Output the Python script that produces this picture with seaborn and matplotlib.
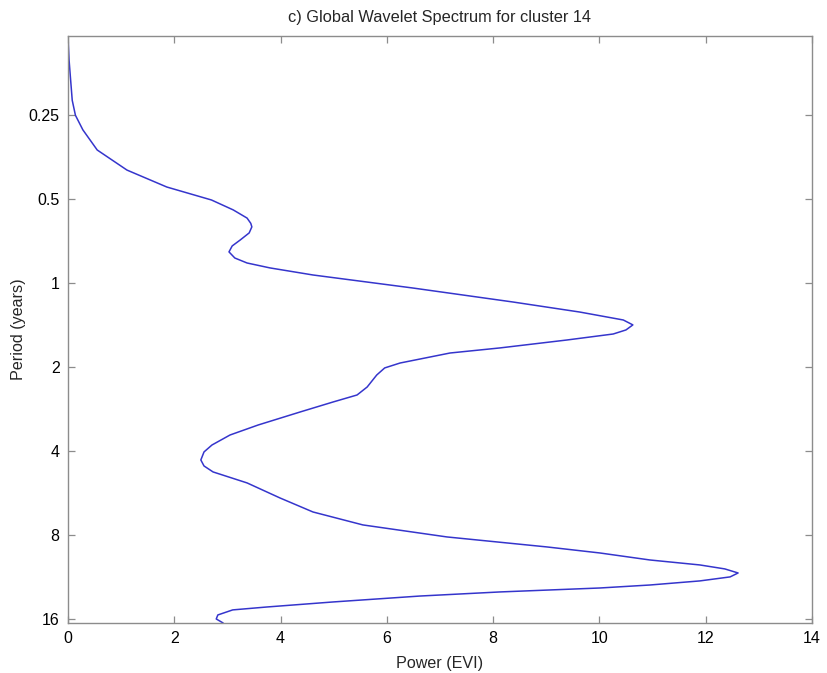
import matplotlib
matplotlib.use("Agg")
import matplotlib.pyplot as plt
import seaborn as sns
import pandas as pd

# Global wavelet spectrum: power at each period (years), ordered along the curve
period = [0.130, 0.158, 0.187, 0.221, 0.250, 0.282, 0.333, 0.393, 0.452, 0.503,
          0.546, 0.584, 0.610, 0.628, 0.660, 0.700, 0.735, 0.772, 0.812, 0.846,
          0.881, 0.934, 1.040, 1.167, 1.268, 1.354, 1.410, 1.470, 1.520, 1.597,
          1.705, 1.778, 1.931, 2.011, 2.132, 2.240, 2.354, 2.514, 2.663, 2.892,
          3.220, 3.497, 3.798, 4.022, 4.298, 4.516, 4.744, 5.194, 5.881, 6.601,
          7.346, 8.111, 8.808, 9.259, 9.809, 10.22, 10.56, 10.92, 11.28, 11.66,
          12.06, 12.36, 12.77, 13.21, 13.87, 14.46, 14.81, 15.44, 15.96, 16.50]
power = [0.00, 0.02, 0.05, 0.08, 0.14, 0.28, 0.55, 1.11, 1.86, 2.70,
         3.11, 3.37, 3.44, 3.46, 3.41, 3.24, 3.09, 3.03, 3.14, 3.37,
         3.80, 4.61, 6.49, 8.37, 9.63, 10.45, 10.63, 10.50, 10.26, 9.39,
         8.13, 7.19, 6.25, 5.96, 5.81, 5.72, 5.63, 5.44, 4.99, 4.37,
         3.58, 3.05, 2.71, 2.56, 2.50, 2.56, 2.73, 3.37, 3.99, 4.61,
         5.55, 7.13, 9.01, 10.01, 10.95, 11.89, 12.36, 12.61, 12.46, 11.89,
         10.95, 10.01, 8.13, 6.62, 4.99, 3.74, 3.10, 2.82, 2.79, 2.92]

y_ticks = [0.25, 0.5, 1, 2, 4, 8, 16]
y_tick_labels = ["0.25", "0.5", "1", "2", "4", "8", "16"]
x_ticks = [0, 2, 4, 6, 8, 10, 12, 14]

sns.set_style("ticks")
plt.rcParams["font.family"] = ["Liberation Sans", "DejaVu Sans"]

df = pd.DataFrame({"power": power, "period": period})

fig = plt.figure(figsize=(8.27, 6.73), dpi=100)
ax = fig.add_axes([0.0822, 0.0743, 0.8996, 0.8722])

sns.lineplot(data=df, x="power", y="period", sort=False, estimator=None,
             color="#3535cc", linewidth=1.1, ax=ax)

ax.set_yscale("log", base=2)
ax.set_ylim(16.5, 0.130)
ax.set_xlim(0, 14)
ax.set_yticks(y_ticks)
ax.set_yticklabels(y_tick_labels)
ax.minorticks_off()
ax.set_xticks(x_ticks)

for side in ["top", "right", "left", "bottom"]:
    ax.spines[side].set_visible(True)
    ax.spines[side].set_color("#8c8c8c")
    ax.spines[side].set_linewidth(1.0)
ax.tick_params(direction="in", length=5, width=0.9, color="#8c8c8c",
               labelcolor="black", labelsize=11.5, top=True, right=True,
               pad=6)

ax.set_title("c) Global Wavelet Spectrum for cluster 14", fontsize=11.8, pad=10)
ax.set_xlabel("Power (EVI)", fontsize=11.6, labelpad=7)
ax.set_ylabel("Period (years)", fontsize=11.6, labelpad=2)

fig.savefig("out.png", dpi=100, facecolor="white")
